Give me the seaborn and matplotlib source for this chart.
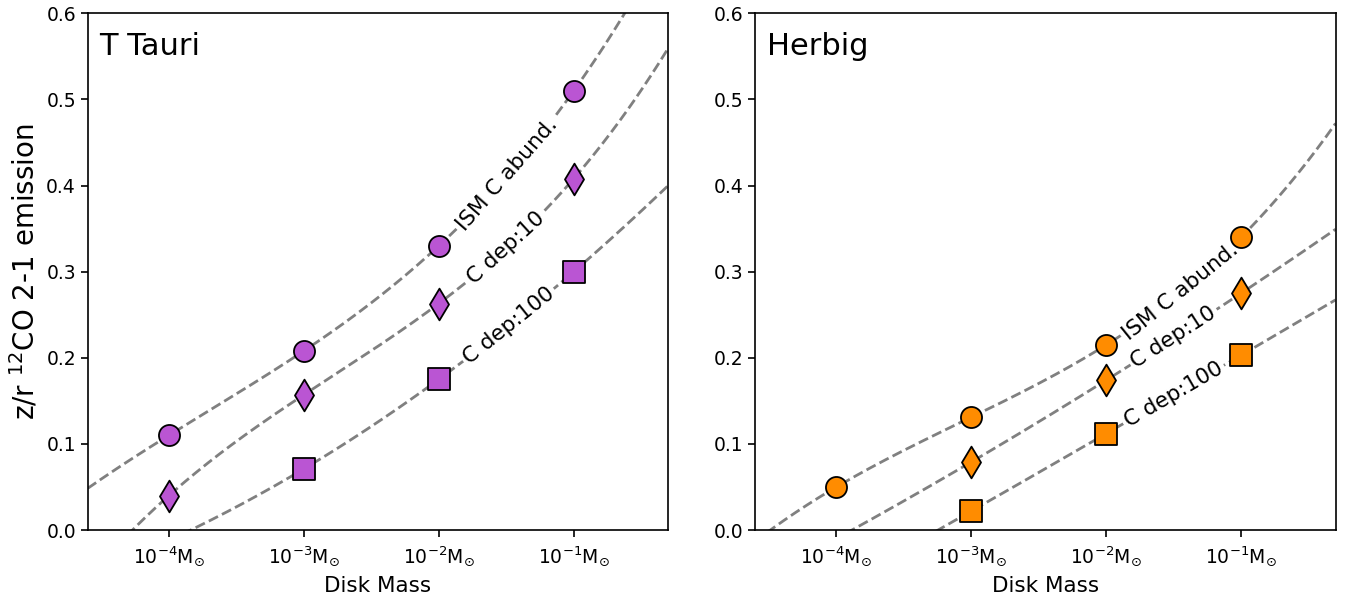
import numpy as np
import pandas as pd
import matplotlib
matplotlib.use("Agg")
import matplotlib.pyplot as plt
import seaborn as sns

sns.set_style("ticks", rc={"axes.edgecolor": "black", "xtick.color": "black", "ytick.color": "black",
                           "text.color": "black", "axes.labelcolor": "black"})
plt.rcParams['font.family'] = ['DejaVu Sans']

log_mass = [-4, -3, -2, -1]
tick_labels = [r"$10^{-4}$M$_{\odot}$", r"$10^{-3}$M$_{\odot}$", r"$10^{-2}$M$_{\odot}$", r"$10^{-1}$M$_{\odot}$"]
series_names = ["ISM C abund.", "C dep:10", "C dep:100"]

ttauri_ism = [0.110, 0.208, 0.330, 0.510]
ttauri_dep10 = [0.040, 0.157, 0.263, 0.408]
ttauri_dep100 = [np.nan, 0.071, 0.175, 0.300]

herbig_ism = [0.050, 0.131, 0.215, 0.340]
herbig_dep10 = [np.nan, 0.079, 0.174, 0.275]
herbig_dep100 = [np.nan, 0.022, 0.112, 0.203]

label_pos_ttauri = [-1.49, -1.50, -1.48]
label_pos_herbig = [-1.45, -1.50, -1.50]

panels = [
    ("T Tauri", "#BA55D3", [ttauri_ism, ttauri_dep10, ttauri_dep100], label_pos_ttauri),
    ("Herbig", "#FF8C00", [herbig_ism, herbig_dep10, herbig_dep100], label_pos_herbig),
]
markers = ["o", "d", "s"]
msizes = [230, 260, 250]

fig, axes = plt.subplots(1, 2, figsize=(13.49, 6.03), dpi=100)
fig.subplots_adjust(left=0.065, right=0.990, top=0.978, bottom=0.121, wspace=0.15)

xmin, xmax = np.log10(2.5e-5), np.log10(0.5)
xs = np.linspace(xmin, xmax, 300)

for ax, (title, color, series, lpos) in zip(axes, panels):
    ax.set_xlim(xmin, xmax)
    ax.set_ylim(0, 0.6)
    fits = []
    for name, vals in zip(series_names, series):
        x = np.array(log_mass, dtype=float)
        y = np.array(vals, dtype=float)
        ok = ~np.isnan(y)
        coef = np.polyfit(x[ok], y[ok], ok.sum() - 1)
        fits.append(coef)
        df_fit = pd.DataFrame({"x": xs, "y": np.polyval(coef, xs)})
        sns.lineplot(data=df_fit, x="x", y="y", ax=ax, color="gray", linestyle=(0, (3.7, 1.6)),
                     linewidth=2, zorder=1)
    for name, vals, m, s in zip(series_names, series, markers, msizes):
        df = pd.DataFrame({"x": log_mass, "y": vals}).dropna()
        sns.scatterplot(data=df, x="x", y="y", ax=ax, marker=m, s=s, color=color,
                        edgecolor="black", linewidth=1.3, zorder=3)
    fig.canvas.draw()
    for name, coef, xp in zip(series_names, fits, lpos):
        yp = np.polyval(coef, xp)
        p1 = ax.transData.transform((xp - 0.05, np.polyval(coef, xp - 0.05)))
        p2 = ax.transData.transform((xp + 0.05, np.polyval(coef, xp + 0.05)))
        ang = np.degrees(np.arctan2(p2[1] - p1[1], p2[0] - p1[0]))
        ax.text(xp, yp, name, rotation=ang, rotation_mode="anchor", ha="center", va="center",
                fontsize=15.5, zorder=2,
                bbox=dict(facecolor="white", edgecolor="none", pad=2))
    ax.set_xticks(log_mass)
    ax.set_xticklabels(tick_labels)
    ax.set_yticks([0.0, 0.1, 0.2, 0.3, 0.4, 0.5, 0.6])
    ax.tick_params(labelsize=13.5, width=1.2, length=5)
    ax.tick_params(axis="x", pad=6)
    ax.set_xlabel("Disk Mass", fontsize=15.5, labelpad=5)
    ax.set_ylabel("")
    ax.text(0.02, 0.935, title, transform=ax.transAxes, fontsize=22, ha="left", va="center")
    for sp in ax.spines.values():
        sp.set_visible(True)
        sp.set_linewidth(1.2)

axes[0].set_ylabel(r"z/r $^{12}$CO 2-1 emission", fontsize=20)

fig.savefig("out.png", dpi=100)
